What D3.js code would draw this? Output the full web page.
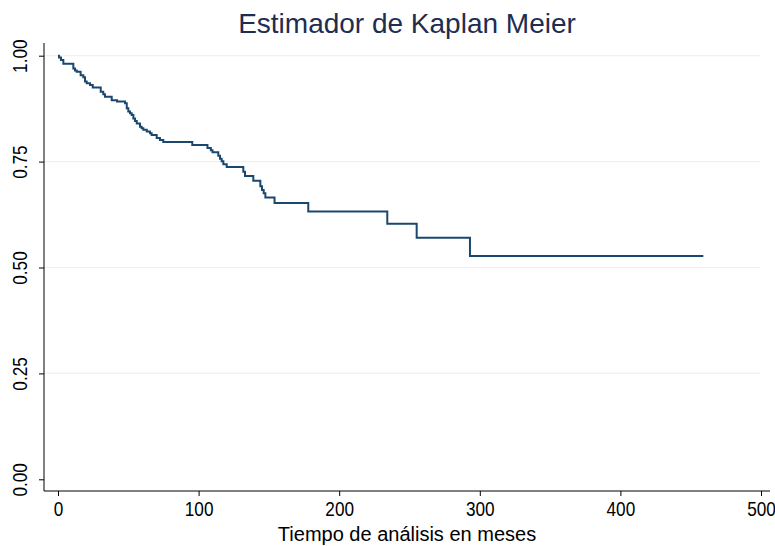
<!DOCTYPE html>
<html>
<head>
<meta charset="utf-8">
<script src="https://cdn.jsdelivr.net/npm/d3@7"></script>
<style>
  body { margin: 0; background: #fff; }
  text { font-family: "Liberation Sans", Arial, Helvetica, sans-serif; }
</style>
</head>
<body>
<svg id="chart" width="775" height="546"></svg>
<script>
// Kaplan-Meier steps: time in months, survival after the step
var times = [0, 0.7, 2.1, 3.8, 10.9, 12.1, 13.3, 16.1, 18.0, 19.2, 20.4, 22.8, 24.7,
  30.4, 32.2, 33.4, 38.2, 42.0, 47.7, 48.9, 50.0, 51.2, 52.4, 53.6, 54.8, 56.0,
  58.3, 59.5, 60.7, 63.1, 65.4, 66.6, 70.2, 72.5, 74.9, 95.5, 106.3, 108.7, 109.9,
  114.0, 115.2, 116.4, 117.6, 120.0, 131.8, 133.0, 138.9, 143.9, 145.1, 146.3,
  147.5, 154.0, 178.0, 234.2, 255.1, 293.0, 459.0];
var survival = [1.000, 0.996, 0.990, 0.981, 0.970, 0.965, 0.962, 0.954, 0.949, 0.939,
  0.935, 0.931, 0.925, 0.915, 0.909, 0.903, 0.895, 0.892, 0.888, 0.876, 0.868, 0.864,
  0.860, 0.852, 0.846, 0.840, 0.832, 0.829, 0.825, 0.821, 0.817, 0.813, 0.806, 0.801,
  0.796, 0.789, 0.782, 0.777, 0.772, 0.764, 0.757, 0.751, 0.744, 0.737, 0.726, 0.716,
  0.705, 0.692, 0.683, 0.675, 0.665, 0.652, 0.632, 0.603, 0.570, 0.527, 0.527];
var xTicks = [0, 100, 200, 300, 400, 500];
var yTicks = [0, 0.25, 0.5, 0.75, 1];
var gridTicks = [0.25, 0.5, 0.75, 1];

var navy = "#1a476f";
var svg = d3.select("#chart");

var x = d3.scaleLinear().domain([0, 500]).range([58, 761]);
var y = d3.scaleLinear().domain([0, 1]).range([479.3, 55.7]);

// grid
svg.append("g").selectAll("line")
  .data(gridTicks).enter().append("line")
  .attr("x1", 45).attr("x2", 760)
  .attr("y1", function(d) { return y(d); })
  .attr("y2", function(d) { return y(d); })
  .attr("stroke", "#eaf2f3")
  .attr("stroke-width", 1.2);

// x axis
var xAxis = svg.append("g")
  .attr("transform", "translate(0,491)")
  .call(d3.axisBottom(x).tickValues(xTicks).tickSize(5).tickPadding(6).tickFormat(d3.format("d")));
xAxis.select(".domain").attr("d", "M44,0H770");
xAxis.selectAll("text").attr("font-size", 20).attr("fill", "#000")
  .attr("font-family", "Liberation Sans, Arial, sans-serif")
  .attr("transform", "scale(0.86,1)");

// y axis
var yAxis = svg.append("g")
  .attr("transform", "translate(44,0)")
  .call(d3.axisLeft(y).tickValues(yTicks).tickSize(5).tickFormat(d3.format(".2f")));
yAxis.select(".domain").attr("d", "M0,43V491");
yAxis.selectAll(".tick text")
  .attr("font-size", 20).attr("fill", "#000")
  .attr("font-family", "Liberation Sans, Arial, sans-serif")
  .attr("x", null).attr("dy", null)
  .attr("text-anchor", "middle")
  .attr("transform", "translate(-17,0) rotate(-90) scale(0.86,1)")
  .attr("y", 0);

// KM curve
var pts = times.map(function(t, i) { return [t, survival[i]]; });
var line = d3.line()
  .x(function(d) { return x(d[0]); })
  .y(function(d) { return y(d[1]); })
  .curve(d3.curveStepAfter);
svg.append("path")
  .datum(pts)
  .attr("d", line)
  .attr("fill", "none")
  .attr("stroke", navy)
  .attr("stroke-width", 2);

// title & axis label
svg.append("text")
  .attr("x", 407).attr("y", 33)
  .attr("text-anchor", "middle")
  .attr("font-size", 28)
  .attr("fill", "#1e2d52")
  .text("Estimador de Kaplan Meier");

svg.append("text")
  .attr("x", 407).attr("y", 541)
  .attr("text-anchor", "middle")
  .attr("font-size", 20)
  .attr("fill", "#000")
  .text("Tiempo de análisis en meses");
</script>
</body>
</html>
